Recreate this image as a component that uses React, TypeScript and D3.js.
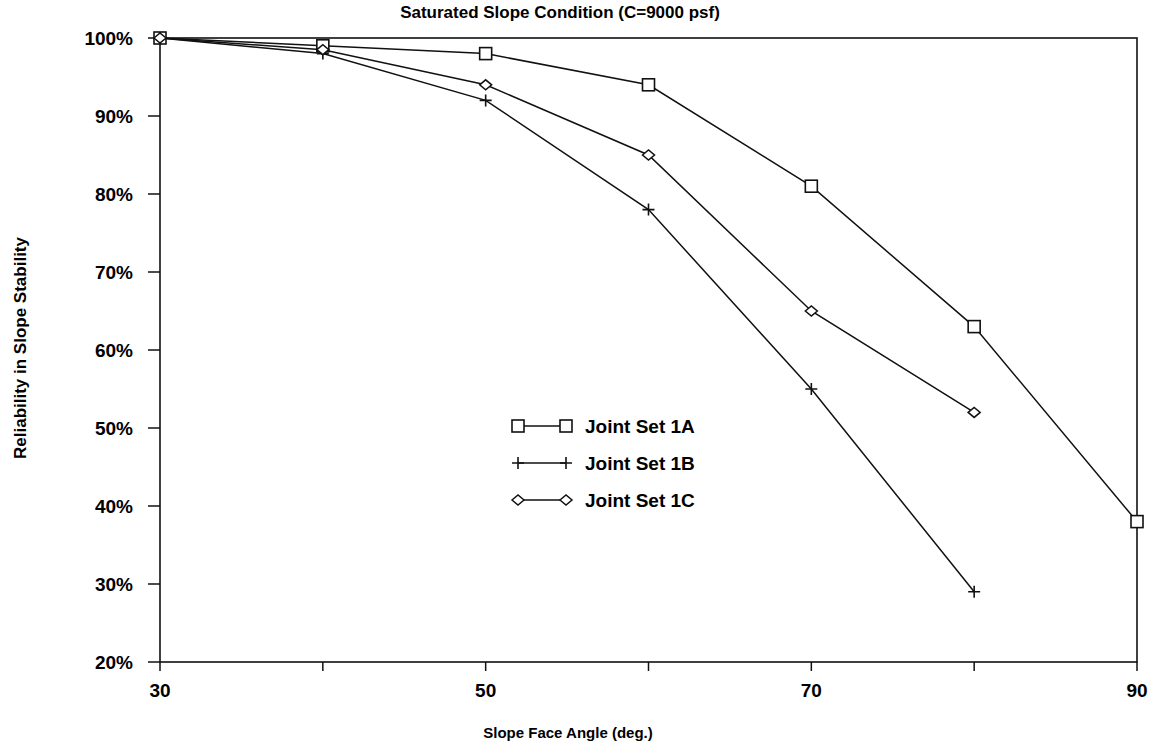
import React from "react";
import * as d3 from "d3";

const angles = [30, 40, 50, 60, 70, 80, 90];
const set1A = [100, 99, 98, 94, 81, 63, 38];
const set1B = [100, 98, 92, 78, 55, 29];
const set1C = [100, 98.5, 94, 85, 65, 52];
const xTicks = [30, 40, 50, 60, 70, 80, 90];
const xTickLabels = [30, 50, 70, 90];
const yTicks = [20, 30, 40, 50, 60, 70, 80, 90, 100];
const seriesNames = ["Joint Set 1A", "Joint Set 1B", "Joint Set 1C"];

const W = 1166, H = 748;
const L = 160, R = 1137, T = 38, B = 662;
const font = "'Liberation Sans', Arial, sans-serif";

function Marker({ type, x, y }: { type: string; x: number; y: number }) {
  if (type === "square") {
    return <rect x={x - 6} y={y - 6} width={12} height={12} fill="white" stroke="#111" strokeWidth={1.6} />;
  }
  if (type === "plus") {
    return (
      <path d={`M${x - 6},${y}H${x + 6}M${x},${y - 6}V${y + 6}`} stroke="#111" strokeWidth={1.6} />
    );
  }
  return (
    <path d={`M${x - 6},${y}L${x},${y - 5}L${x + 6},${y}L${x},${y + 5}Z`} fill="white" stroke="#111" strokeWidth={1.5} />
  );
}

export default function App() {
  const x = d3.scaleLinear().domain([30, 90]).range([L, R]);
  const y = d3.scaleLinear().domain([20, 100]).range([B, T]);
  const series = [
    { name: seriesNames[0], values: set1A, marker: "square" },
    { name: seriesNames[1], values: set1B, marker: "plus" },
    { name: seriesNames[2], values: set1C, marker: "diamond" },
  ];
  const line = d3.line<number>().x((_, i) => x(angles[i])).y((v) => y(v));
  return (
    <svg width={W} height={H} style={{ position: "absolute", left: 0, top: 0, background: "white" }}>
      <rect x={0} y={0} width={W} height={H} fill="white" />
      <text x={560} y={18} textAnchor="middle" fontFamily={font} fontWeight="bold" fontSize={17}>
        Saturated Slope Condition (C=9000 psf)
      </text>
      <rect x={L} y={T} width={R - L} height={B - T} fill="none" stroke="#111" strokeWidth={1.6} />
      {yTicks.map((t) => (
        <g key={t}>
          <line x1={L - 12} x2={L} y1={y(t)} y2={y(t)} stroke="#111" strokeWidth={1.5} />
          <text x={133} y={y(t) + 7} textAnchor="end" fontFamily={font} fontWeight="bold" fontSize={19}>
            {t}%
          </text>
        </g>
      ))}
      {xTicks.map((t) => (
        <line key={t} x1={x(t)} x2={x(t)} y1={B} y2={B + 9} stroke="#111" strokeWidth={1.5} />
      ))}
      {xTickLabels.map((t) => (
        <text key={t} x={x(t)} y={697} textAnchor="middle" fontFamily={font} fontWeight="bold" fontSize={19}>
          {t}
        </text>
      ))}
      <text x={568} y={738} textAnchor="middle" fontFamily={font} fontWeight="bold" fontSize={15}>
        Slope Face Angle (deg.)
      </text>
      <text
        transform={`translate(26,348) rotate(-90)`}
        textAnchor="middle"
        fontFamily={font}
        fontWeight="bold"
        fontSize={17}
      >
        Reliability in Slope Stability
      </text>
      {series.map((s) => (
        <g key={s.name}>
          <path d={line(s.values) || ""} fill="none" stroke="#111" strokeWidth={1.5} />
          {s.values.map((v, i) => (
            <Marker key={i} type={s.marker} x={x(angles[i])} y={y(v)} />
          ))}
        </g>
      ))}
      {series.map((s, i) => {
        const ly = 426 + i * 37;
        return (
          <g key={"lg" + s.name}>
            <line x1={518} x2={566} y1={ly} y2={ly} stroke="#111" strokeWidth={1.5} />
            <Marker type={s.marker} x={518} y={ly} />
            <Marker type={s.marker} x={566} y={ly} />
            <text x={585} y={ly + 7} fontFamily={font} fontWeight="bold" fontSize={19}>
              {s.name}
            </text>
          </g>
        );
      })}
    </svg>
  );
}
